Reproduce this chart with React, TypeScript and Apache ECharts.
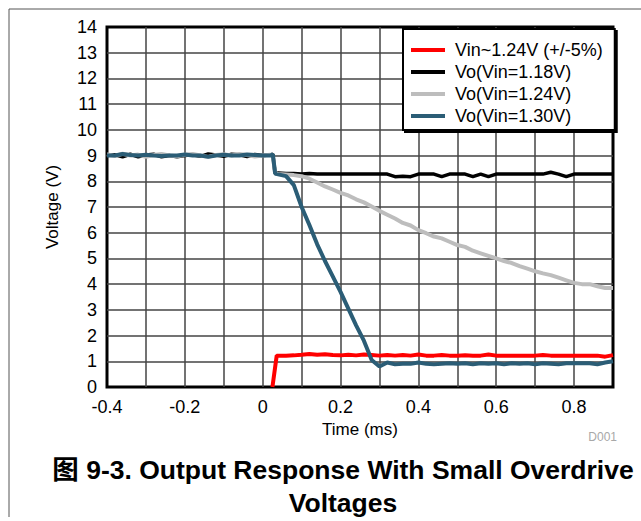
import React, { useEffect, useRef } from "react";
import * as echarts from "echarts";

const FONT = "'Liberation Sans', Arial, 'Noto Sans CJK SC', sans-serif";

// Time (ms) before the output transition
const preTime = [-0.4, -0.38, -0.36, -0.34, -0.32, -0.3, -0.28, -0.26, -0.24, -0.22, -0.2, -0.18, -0.16, -0.14, -0.12, -0.1, -0.08, -0.06, -0.04, -0.02, 0, 0.02, 0.026];
// Time (ms) after the transition
const postTime = [0.032, 0.04, 0.06, 0.08, 0.1, 0.12, 0.14, 0.16, 0.18, 0.2, 0.22, 0.24, 0.26, 0.28, 0.3, 0.32, 0.34, 0.36, 0.38, 0.4, 0.42, 0.44, 0.46, 0.48, 0.5, 0.52, 0.54, 0.56, 0.58, 0.6, 0.62, 0.64, 0.66, 0.68, 0.7, 0.72, 0.74, 0.76, 0.78, 0.8, 0.82, 0.84, 0.86, 0.88, 0.9];
// Time (ms) for input step
const redTime = [0.025, 0.036, 0.04, 0.06, 0.08, 0.1, 0.12, 0.14, 0.16, 0.18, 0.2, 0.22, 0.24, 0.26, 0.28, 0.3, 0.32, 0.34, 0.36, 0.38, 0.4, 0.42, 0.44, 0.46, 0.48, 0.5, 0.52, 0.54, 0.56, 0.58, 0.6, 0.62, 0.64, 0.66, 0.68, 0.7, 0.72, 0.74, 0.76, 0.78, 0.8, 0.82, 0.84, 0.86, 0.88, 0.9];

const seriesNames = ["Vin~1.24V (+/-5%)", "Vo(Vin=1.18V)", "Vo(Vin=1.24V)", "Vo(Vin=1.30V)"];
const seriesColors = ["#ff0000", "#000000", "#bdbdbd", "#2b5d76"];

const vinValues = [0, 1.22, 1.22, 1.22, 1.23, 1.25, 1.28, 1.25, 1.27, 1.24, 1.23, 1.25, 1.23, 1.26, 1.24, 1.22, 1.24, 1.22, 1.24, 1.22, 1.26, 1.22, 1.22, 1.24, 1.22, 1.22, 1.23, 1.22, 1.22, 1.26, 1.22, 1.22, 1.22, 1.22, 1.22, 1.22, 1.24, 1.22, 1.22, 1.22, 1.22, 1.22, 1.22, 1.22, 1.18, 1.24];

const vo118Pre = [9.0, 9.03, 8.95, 9.05, 8.95, 9.02, 9.05, 8.95, 9.0, 8.95, 9.0, 9.03, 8.97, 9.06, 9.02, 8.97, 9.05, 9.03, 8.96, 9.04, 9.0, 9.02, 9.05];
const vo118Post = [8.3, 8.32, 8.3, 8.3, 8.28, 8.3, 8.28, 8.28, 8.28, 8.28, 8.28, 8.28, 8.28, 8.28, 8.28, 8.28, 8.18, 8.2, 8.18, 8.28, 8.28, 8.28, 8.18, 8.28, 8.28, 8.28, 8.18, 8.28, 8.18, 8.28, 8.28, 8.28, 8.28, 8.28, 8.28, 8.28, 8.35, 8.28, 8.18, 8.28, 8.28, 8.28, 8.28, 8.28, 8.28];

const vo124Pre = [9.05, 8.98, 9.07, 9.0, 9.04, 8.95, 9.02, 9.06, 9.0, 8.97, 9.03, 9.06, 9.0, 8.95, 9.02, 9.05, 9.0, 9.06, 9.02, 8.96, 9.0, 9.03, 9.0];
const vo124Post = [8.3, 8.28, 8.26, 8.24, 8.2, 8.1, 7.95, 7.8, 7.68, 7.55, 7.45, 7.3, 7.18, 7.02, 6.85, 6.7, 6.55, 6.38, 6.28, 6.1, 5.98, 5.85, 5.78, 5.65, 5.52, 5.45, 5.3, 5.2, 5.1, 5.0, 4.9, 4.82, 4.7, 4.6, 4.5, 4.42, 4.35, 4.25, 4.15, 4.05, 4.0, 4.0, 3.92, 3.85, 3.85];

const vo130Pre = [9.0, 9.0, 9.06, 9.02, 9.0, 9.03, 9.0, 8.98, 9.0, 9.0, 9.04, 9.0, 9.0, 8.95, 9.0, 9.03, 9.0, 9.0, 9.04, 9.02, 9.0, 9.0, 9.05];
const vo130Post = [8.3, 8.27, 8.2, 7.85, 7.0, 6.3, 5.55, 4.9, 4.3, 3.7, 3.05, 2.4, 1.8, 1.05, 0.8, 0.95, 0.88, 0.9, 0.9, 0.95, 0.9, 0.88, 0.9, 0.92, 0.9, 0.92, 0.88, 0.92, 0.9, 0.92, 0.88, 0.92, 0.9, 0.92, 0.88, 0.92, 0.9, 0.88, 0.92, 0.92, 0.92, 0.92, 0.88, 0.95, 1.0];

const pair = (t: number[], v: number[]) => t.map((x, i) => [x, v[i]]);

export default function App() {
  const ref = useRef<HTMLDivElement>(null);
  useEffect(() => {
    const chart = echarts.init(ref.current!, null, { renderer: "svg" });
    const data = [
      pair(redTime, vinValues),
      pair([...preTime, ...postTime], [...vo118Pre, ...vo118Post]),
      pair([...preTime, ...postTime], [...vo124Pre, ...vo124Post]),
      pair([...preTime, ...postTime], [...vo130Pre, ...vo130Post]),
    ];
    const widths = [4, 3.5, 4, 4];
    const splitLine = {
      show: true,
      showMinLine: false,
      showMaxLine: false,
      lineStyle: { color: "#444", width: 1.5 },
    };
    chart.setOption({
      animation: false,
      backgroundColor: "#fff",
      textStyle: { fontFamily: FONT },
      grid: {
        left: 107,
        right: 28,
        top: 27,
        bottom: 134,
        show: true,
        borderColor: "#000",
        borderWidth: 3,
        backgroundColor: "#fff",
      },
      xAxis: {
        type: "value",
        min: -0.4,
        max: 0.9,
        interval: 0.1,
        axisLine: { show: false },
        axisTick: { show: false },
        axisLabel: {
          color: "#000",
          fontSize: 18,
          fontFamily: FONT,
          margin: 11,
          formatter: (v: number) => {
            const k = Math.round(v * 10);
            if (k % 2 !== 0 || k >= 9) return "";
            return String(k / 10);
          },
        },
        splitLine,
        name: "Time (ms)",
        nameLocation: "middle",
        nameGap: 34,
        nameTextStyle: { color: "#000", fontSize: 17, fontFamily: FONT },
      },
      yAxis: {
        type: "value",
        min: 0,
        max: 14,
        interval: 1,
        axisLine: { show: false },
        axisTick: { show: false },
        axisLabel: { color: "#000", fontSize: 18, fontFamily: FONT, margin: 10 },
        splitLine,
        name: "Voltage (V)",
        nameLocation: "middle",
        nameGap: 46,
        nameTextStyle: { color: "#000", fontSize: 17, fontFamily: FONT },
      },
      legend: {
        orient: "vertical",
        left: 403,
        top: 29,
        padding: [12, 12, 5, 8],
        itemWidth: 34,
        itemHeight: 4,
        itemGap: 4,
        icon: "rect",
        backgroundColor: "#fff",
        borderColor: "#000",
        borderWidth: 2,
        shadowColor: "#000",
        shadowOffsetX: 2,
        shadowOffsetY: 2,
        shadowBlur: 0,
        textStyle: { color: "#000", fontSize: 18, fontFamily: FONT, lineHeight: 18, padding: [0, 0, 0, 5] },
        data: seriesNames,
      },
      series: seriesNames.map((name, i) => ({
        name,
        type: "line",
        data: data[i],
        color: seriesColors[i],
        showSymbol: false,
        symbol: "none",
        lineStyle: { color: seriesColors[i], width: widths[i] },
        z: 2 + i,
      })),
      graphic: [
        { type: "line", shape: { x1: 9, y1: 9, x2: 641, y2: 9 }, style: { stroke: "#555", lineWidth: 1 } },
        { type: "line", shape: { x1: 9, y1: 9, x2: 9, y2: 517 }, style: { stroke: "#555", lineWidth: 1 } },
        {
          type: "text",
          x: 617,
          y: 437,
          style: { text: "D001", fill: "#a8a8a8", font: `12px ${FONT}`, textAlign: "right", textVerticalAlign: "middle" },
        },
        {
          type: "text",
          x: 343,
          y: 470,
          style: { text: "图 9-3. Output Response With Small Overdrive", fill: "#000", font: `bold 26.5px ${FONT}`, textAlign: "center", textVerticalAlign: "middle" },
        },
        {
          type: "text",
          x: 343,
          y: 503,
          style: { text: "Voltages", fill: "#000", font: `bold 26.5px ${FONT}`, textAlign: "center", textVerticalAlign: "middle" },
        },
      ],
    });
    return () => chart.dispose();
  }, []);
  return (
    <div
      ref={ref}
      style={{ position: "absolute", left: 0, top: 0, width: 641, height: 521, background: "#fff" }}
    />
  );
}
